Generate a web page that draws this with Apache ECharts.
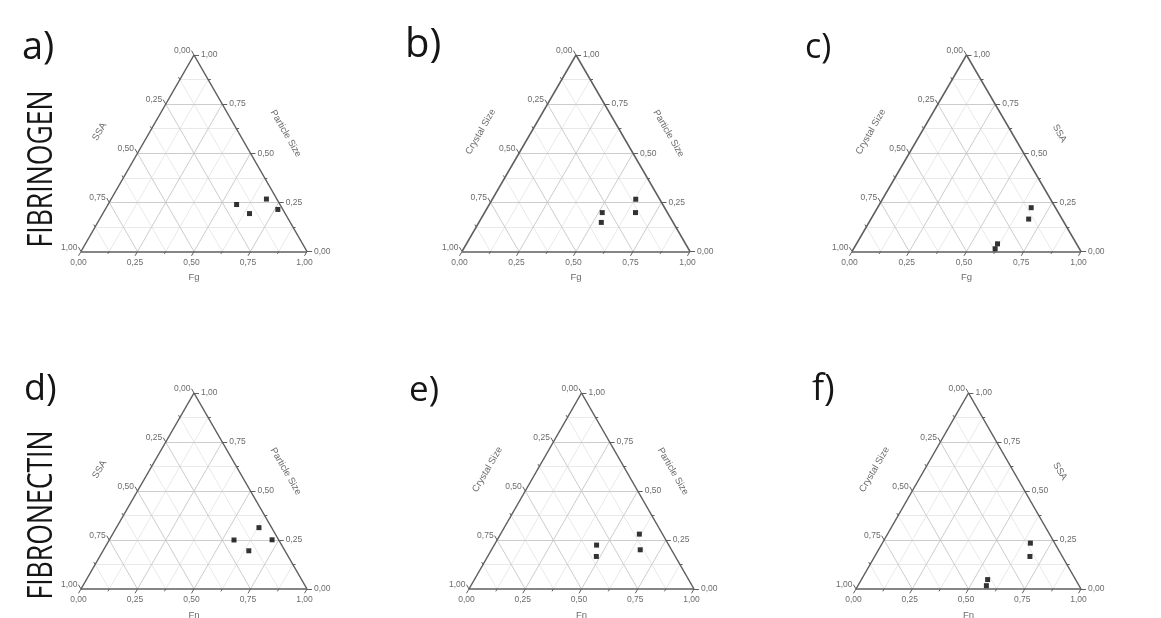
<!DOCTYPE html>
<html>
<head>
<meta charset="utf-8">
<script src="https://cdn.jsdelivr.net/npm/echarts@6/dist/echarts.min.js"></script>
<style>
  html, body { margin: 0; padding: 0; background: #ffffff; }
  #chart { width: 1161px; height: 618px; }
</style>
</head>
<body>
<div id="chart"></div>
<script>
// ---- chart content ----
const panelLetters = ['a)', 'b)', 'c)', 'd)', 'e)', 'f)'];
const rowLabels = ['FIBRINOGEN', 'FIBRONECTIN'];
const bottomTitles = ['Fg', 'Fg', 'Fg', 'Fn', 'Fn', 'Fn'];
const leftTitles = ['SSA', 'Crystal Size', 'Crystal Size', 'SSA', 'Crystal Size', 'Crystal Size'];
const rightTitles = ['Particle Size', 'Particle Size', 'SSA', 'Particle Size', 'Particle Size', 'SSA'];
const tickValues = [0, 0.25, 0.5, 0.75, 1];
const tickLabels = ['0,00', '0,25', '0,50', '0,75', '1,00'];
const minorTickValues = [0.125, 0.375, 0.625, 0.875];

// compositions as [bottom, left, right] fractions
const pointsA = [[0.569, 0.192, 0.239], [0.649, 0.158, 0.193], [0.687, 0.046, 0.267], [0.764, 0.022, 0.214]];
const pointsB = [[0.629, 0.105, 0.266], [0.662, 0.140, 0.198], [0.516, 0.286, 0.198], [0.537, 0.315, 0.148]];
const pointsC = [[0.671, 0.106, 0.223], [0.689, 0.146, 0.165], [0.616, 0.345, 0.039], [0.618, 0.368, 0.014]];
const pointsD = [[0.631, 0.056, 0.313], [0.552, 0.198, 0.250], [0.720, 0.029, 0.251], [0.645, 0.160, 0.195]];
const pointsE = [[0.617, 0.103, 0.280], [0.661, 0.139, 0.200], [0.455, 0.321, 0.224], [0.483, 0.351, 0.166]];
const pointsF = [[0.658, 0.108, 0.234], [0.690, 0.144, 0.166], [0.561, 0.391, 0.048], [0.571, 0.412, 0.017]];
const panelPoints = [pointsA, pointsB, pointsC, pointsD, pointsE, pointsF];

// ---- layout ----
const panelBoxes = [
  { left: 81,  top: 55,  width: 226, height: 196.5 },
  { left: 462, top: 55,  width: 228, height: 196.5 },
  { left: 852, top: 55,  width: 229, height: 196.5 },
  { left: 81,  top: 393, width: 226, height: 196 },
  { left: 469, top: 393, width: 225, height: 196 },
  { left: 856, top: 393, width: 225, height: 196 }
];
const letterStyle = [
  { x: 22,  y: 48,  size: 38 },
  { x: 405, y: 46,  size: 40 },
  { x: 805, y: 48,  size: 34 },
  { x: 24,  y: 390, size: 36 },
  { x: 409, y: 391, size: 35 },
  { x: 812, y: 390, size: 36 }
];
const rowLabelStyle = [
  { x: 42, y: 169 },
  { x: 42, y: 515 }
];

const H = Math.sqrt(3) / 2;
const MAJOR = 0.022;
const MINOR = 0.012;
const EDGE = '#5e5e5e';
const TEXT = '#454545';

// ternary [bottom, right] -> plane
function tern(b, r) { return [b + r / 2, r * H]; }

// outward tick directions per side
const dirBottom = [-0.5, -H];
const dirLeft = [-0.5, H];
const dirRight = [1, 0];

function leftPoint(v) { return tern(0, 1 - v); }      // left-axis value v on left edge
function rightPoint(v) { return tern(1 - v, v); }     // right-axis value v on right edge
function bottomPoint(v) { return tern(v, 0); }        // bottom-axis value v on bottom edge

function seg(p, d, len) { return { coords: [p, [p[0] + d[0] * len, p[1] + d[1] * len]] }; }

function gridLines(major) {
  const out = [];
  for (let k = 1; k < 8; k++) {
    if ((k % 2 === 0) !== major) continue;
    const v = k / 8;
    out.push({ coords: [tern(0, v), tern(1 - v, v)] });     // right const
    out.push({ coords: [tern(v, 0), tern(v, 1 - v)] });     // bottom const
    out.push({ coords: [tern(1 - v, 0), tern(0, 1 - v)] }); // left const
  }
  return out;
}

const xAxes = [], yAxes = [], grids = [], series = [];

panelBoxes.forEach((box, i) => {
  grids.push({ left: box.left, top: box.top, width: box.width, height: box.height, containLabel: false });
  xAxes.push({ gridIndex: i, type: 'value', min: 0, max: 1, show: false });
  yAxes.push({ gridIndex: i, type: 'value', min: 0, max: H, show: false });
  const ax = { xAxisIndex: i, yAxisIndex: i };

  series.push(Object.assign({
    type: 'lines', coordinateSystem: 'cartesian2d', silent: true, clip: false, z: 1,
    lineStyle: { color: '#e3e3e3', width: 0.8, opacity: 1 },
    data: gridLines(false)
  }, ax));
  series.push(Object.assign({
    type: 'lines', coordinateSystem: 'cartesian2d', silent: true, clip: false, z: 2,
    lineStyle: { color: '#c6c6c6', width: 0.9, opacity: 1 },
    data: gridLines(true)
  }, ax));
  series.push(Object.assign({
    type: 'lines', coordinateSystem: 'cartesian2d', silent: true, clip: false, z: 3,
    lineStyle: { color: EDGE, width: 1.5, opacity: 1 },
    data: [
      { coords: [tern(0, 0), tern(1, 0)] },
      { coords: [tern(1, 0), tern(0, 1)] },
      { coords: [tern(0, 1), tern(0, 0)] }
    ]
  }, ax));

  const ticks = [];
  tickValues.forEach(v => {
    ticks.push(seg(bottomPoint(v), dirBottom, MAJOR));
    ticks.push(seg(leftPoint(v), dirLeft, MAJOR));
    ticks.push(seg(rightPoint(v), dirRight, MAJOR));
  });
  minorTickValues.forEach(v => {
    ticks.push(seg(bottomPoint(v), dirBottom, MINOR));
    ticks.push(seg(leftPoint(v), dirLeft, MINOR));
    ticks.push(seg(rightPoint(v), dirRight, MINOR));
  });
  series.push(Object.assign({
    type: 'lines', coordinateSystem: 'cartesian2d', silent: true, clip: false, z: 3,
    lineStyle: { color: EDGE, width: 1, opacity: 1 },
    data: ticks
  }, ax));

  // tick labels
  const labels = [];
  tickValues.forEach((v, k) => {
    const pb = bottomPoint(v), pl = leftPoint(v), pr = rightPoint(v);
    labels.push({ name: tickLabels[k], value: [pb[0] + dirBottom[0] * MAJOR, pb[1] + dirBottom[1] * MAJOR],
      label: { position: 'bottom', distance: 2 } });
    labels.push({ name: tickLabels[k], value: [pl[0] + dirLeft[0] * MAJOR, pl[1] + dirLeft[1] * MAJOR],
      label: { position: 'left', distance: 1 } });
    labels.push({ name: tickLabels[k], value: [pr[0] + dirRight[0] * MAJOR, pr[1]],
      label: { position: 'right', distance: 2 } });
  });
  series.push(Object.assign({
    type: 'scatter', silent: true, clip: false, symbolSize: 0, z: 4,
    label: { show: true, formatter: '{b}', color: TEXT, fontSize: 8.5, fontFamily: 'Arial, "Liberation Sans", sans-serif' },
    data: labels
  }, ax));

  // axis titles
  const titleFont = { show: true, formatter: '{b}', color: TEXT, fontSize: 9.5,
    fontFamily: 'Arial, "Liberation Sans", sans-serif', position: 'inside' };
  series.push(Object.assign({
    type: 'scatter', silent: true, clip: false, symbolSize: 0, z: 4,
    label: titleFont,
    data: [
      { name: bottomTitles[i], value: [0.5, -0.115], label: { rotate: 0 } },
      { name: leftTitles[i], value: [0.082, 0.528], label: { rotate: 60 } },
      { name: rightTitles[i], value: [0.906, 0.52], label: { rotate: -60 } }
    ]
  }, ax));

  // measured compositions
  series.push(Object.assign({
    type: 'scatter', clip: false, symbol: 'rect', symbolSize: 5, z: 10,
    itemStyle: { color: '#000000' },
    data: panelPoints[i].map(p => tern(p[0], p[2]))
  }, ax));
});

const graphics = [];
panelLetters.forEach((t, i) => {
  const s = letterStyle[i];
  graphics.push({ type: 'text', x: s.x, y: s.y, silent: true,
    style: { text: t, fill: '#151515', font: s.size + 'px "Open Sans", sans-serif', align: 'left', verticalAlign: 'middle' } });
});
rowLabels.forEach((t, i) => {
  const s = rowLabelStyle[i];
  graphics.push({ type: 'text', x: s.x, y: s.y, rotation: Math.PI / 2, scaleX: 0.76, silent: true,
    style: { text: t, fill: '#151515', font: '35px "Open Sans", sans-serif', align: 'center', verticalAlign: 'middle' } });
});

const chart = echarts.init(document.getElementById('chart'), null, { renderer: 'canvas' });
chart.setOption({
  backgroundColor: '#ffffff',
  animation: false,
  grid: grids,
  xAxis: xAxes,
  yAxis: yAxes,
  series: series,
  graphic: graphics
});
</script>
</body>
</html>
